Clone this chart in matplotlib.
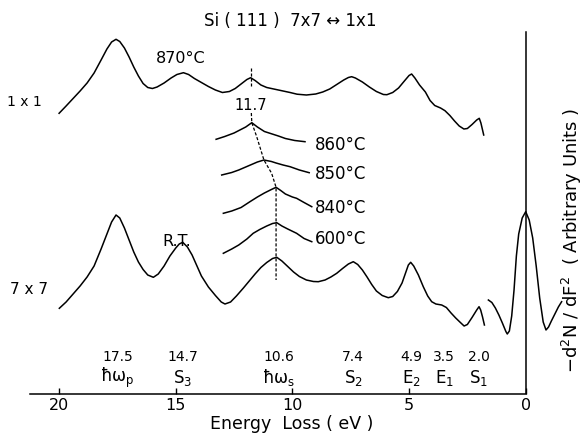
import matplotlib
matplotlib.use("Agg")
import matplotlib.pyplot as plt

plt.rcParams['font.family'] = ['DejaVu Sans']
plt.rcParams['mathtext.fontset'] = 'dejavusans'

# ---- data (energy loss in eV, intensity in arbitrary units) ----
e_1x1 = [20.0, 19.7, 19.4, 19.1, 18.8, 18.5, 18.2, 17.95, 17.75, 17.56, 17.4, 17.2, 17.0,
         16.8, 16.6, 16.4, 16.2, 16.0, 15.8, 15.5, 15.2, 14.95, 14.67, 14.45, 14.2, 13.9,
         13.6, 13.3, 13.0, 12.7, 12.45, 12.2, 11.95, 11.79, 11.6, 11.35, 11.1, 10.8, 10.5,
         10.1, 9.8, 9.4, 9.0, 8.7, 8.4, 8.1, 7.8, 7.6, 7.46, 7.3, 7.0, 6.7, 6.4, 6.1,
         5.95, 5.7, 5.45, 5.2, 5.0, 4.89, 4.75, 4.55, 4.3, 4.1, 3.9, 3.65, 3.46, 3.25,
         3.05, 2.85, 2.65, 2.5, 2.3, 2.1, 1.99, 1.92, 1.85, 1.80]
i_1x1 = [280.7, 288, 295.5, 303, 311, 321, 334, 345, 352, 354.7, 352.5, 346, 337,
         327, 318, 310.5, 306.5, 305.5, 307, 311, 316, 319.5, 321.3, 319.5, 315.5, 311.5,
         307.5, 304, 301.5, 302.5, 305.5, 310, 314.5, 316.3, 313.5, 309, 306.5, 305, 303.5,
         301.5, 299.8, 299, 300, 302, 305, 309.5, 314, 316.5, 317.3, 316, 312, 307, 302.5, 299.5,
         299.3, 301.5, 306, 313, 318.5, 320, 316, 309, 302, 293.5, 288.5, 286, 283.3, 278.5,
         273, 268, 265, 265.5, 269.5, 274, 275.7, 271, 264, 259]

e_7x7 = [19.99, 19.7, 19.4, 19.1, 18.8, 18.5, 18.2, 17.95, 17.75, 17.56, 17.4, 17.2, 17.0,
         16.8, 16.6, 16.4, 16.2, 15.96, 15.75, 15.5, 15.25, 15.0, 14.85, 14.70, 14.5, 14.3,
         14.1, 13.9, 13.6, 13.3, 13.05, 12.89, 12.65, 12.4, 12.1, 11.85, 11.6, 11.35, 11.1,
         10.85, 10.67, 10.45, 10.2, 9.95, 9.7, 9.4, 9.1, 8.89, 8.6, 8.35, 8.1, 7.85, 7.6,
         7.39, 7.2, 7.0, 6.8, 6.6, 6.4, 6.15, 5.89, 5.7, 5.5, 5.3, 5.15, 5.03, 4.93, 4.8,
         4.6, 4.39, 4.2, 4.03, 3.85, 3.60, 3.4, 3.2, 3.0, 2.8, 2.64, 2.5, 2.3, 2.1, 2.00,
         1.93, 1.85, 1.77]
i_7x7 = [85.7, 92, 100, 108, 117, 128, 145, 160, 172, 179, 176, 166, 154,
         142, 132, 124.5, 119, 116.7, 120, 128, 138, 146, 150, 151.7, 147, 139,
         128.5, 118, 107, 98.5, 92, 90, 92, 98, 106, 113, 120, 126.5, 131.5,
         135.5, 136.7, 133, 127.5, 122, 117.5, 114, 112.5, 112.3, 114, 117, 120.7, 125.5, 130,
         132.3, 129.5, 124, 117, 109.5, 103, 98.5, 96.3, 97.5, 102.5, 111, 121, 129, 131.7, 128,
         119, 107.3, 98, 92.3, 90, 89, 86.5, 81, 76, 71.5, 68, 69.5, 76.5, 84, 87.3,
         84, 77, 69]

e_zero = [1.60, 1.45, 1.3, 1.15, 1.0, 0.85, 0.79, 0.7, 0.6, 0.5, 0.4, 0.3, 0.15, 0.0,
          -0.15, -0.3, -0.45, -0.6, -0.75, -0.87, -0.98, -1.1, -1.25, -1.4, -1.54]
i_zero = [94, 91.5, 86, 79, 71, 62.5, 60, 63, 78, 104, 138, 160, 176, 182.3,
          174, 156, 128, 96, 72, 64, 67, 73, 80, 87, 92.3]

temps = ["860°C", "850°C", "840°C", "600°C"]
e_t = [[13.27, 12.9, 12.5, 12.0, 11.74, 11.5, 11.2, 10.96, 10.6, 10.3, 9.9, 9.46],
       [13.03, 12.6, 12.3, 11.9, 11.5, 11.22, 10.9, 10.7, 10.4, 10.10, 9.7, 9.28],
       [12.96, 12.6, 12.2, 11.82, 11.5, 11.2, 10.9, 10.70, 10.5, 10.3, 10.0, 9.82, 9.5, 9.17],
       [12.96, 12.6, 12.3, 11.95, 11.68, 11.4, 11.1, 10.85, 10.67, 10.45, 10.2, 9.82, 9.5, 9.17]]
i_t = [[254.7, 257.5, 261, 267, 271.3, 267, 262.5, 260.7, 258, 255.5, 253.5, 252.3],
       [219, 221.5, 224, 228, 232, 234, 232.5, 231, 229, 227.3, 224, 221.3],
       [180.7, 183, 186.5, 192.3, 197, 201, 204.5, 206.7, 203.5, 200, 197, 195.7, 191.5, 187.3],
       [140.7, 145, 149, 155, 160.7, 164.5, 168, 170.5, 171.3, 168, 165, 160.7, 155.5, 152.3]]

# peak shift guide (dashed)
e_guide1 = [11.79, 11.79]
i_guide1 = [326, 308]
e_guide2 = [11.76, 11.74, 11.53, 11.22, 10.89, 10.70, 10.70]
i_guide2 = [281, 271.3, 257.3, 234, 220.7, 206.7, 114]

peak_vals = ["17.5", "14.7", "10.6", "7.4", "4.9", "3.5", "2.0"]
peak_pos = [17.5, 14.7, 10.6, 7.4, 4.9, 3.5, 2.0]
peak_names = [r"ħω$_{\rm p}$", r"S$_{\rm 3}$", r"ħω$_{\rm s}$", r"S$_{\rm 2}$",
              r"E$_{\rm 2}$", r"E$_{\rm 1}$", r"S$_{\rm 1}$"]
xticks = [20, 15, 10, 5, 0]

# ---- figure ----
fig = plt.figure(figsize=(5.83, 4.38), dpi=100)
ax = fig.add_axes([0, 44 / 438, 1, 394 / 438])
ax.set_xlim(22.533, -2.456)
ax.set_ylim(0, 394)

lw = 1.1
ax.plot(e_1x1, i_1x1, color='black', lw=lw)
ax.plot(e_7x7, i_7x7, color='black', lw=lw)
ax.plot(e_zero, i_zero, color='black', lw=lw)
for ex, iy in zip(e_t, i_t):
    ax.plot(ex, iy, color='black', lw=lw)
ax.plot(e_guide1, i_guide1, color='black', lw=0.9, ls=(0, (2.5, 1.5)))
ax.plot(e_guide2, i_guide2, color='black', lw=0.9, ls=(0, (2.5, 1.5)))
ax.plot([0, 0], [0, 362.3], color='black', lw=lw)

# axes styling
for s in ['top', 'right', 'left']:
    ax.spines[s].set_visible(False)
ax.spines['bottom'].set_bounds(0, 21.25)
ax.spines['bottom'].set_linewidth(1.1)
ax.set_yticks([])
ax.set_xticks(xticks)
ax.set_xticklabels([str(t) for t in xticks])
ax.tick_params(axis='x', direction='in', length=4, width=1.0, pad=3, labelsize=11.5)
ax.set_xlabel("Energy  Loss ( eV )", fontsize=12.5, labelpad=1)

# texts
fig.text(0.497, 1 - 21 / 438, "Si ( 111 )  7x7 ↔ 1x1", ha='center', va='center', fontsize=12)
ax.text(14.8, 335.7, "870°C", ha='center', va='center', fontsize=11.5)
ax.text(11.79, 289, "11.7", ha='center', va='center', fontsize=10.5)
ax.text(14.95, 152.3, "R.T.", ha='center', va='center', fontsize=11.5)
ax.text(21.5, 292, "1 x 1", ha='center', va='center', fontsize=10)
ax.text(21.3, 104, "7 x 7", ha='center', va='center', fontsize=11)
temp_y = [249, 220, 185.7, 154.7]
for t, ty in zip(temps, temp_y):
    ax.text(9.03, ty, t, ha='left', va='center', fontsize=12)
for pv, pp, pn in zip(peak_vals, peak_pos, peak_names):
    ax.text(pp, 37, pv, ha='center', va='center', fontsize=10)
    ax.text(pp, 16, pn, ha='center', va='center', fontsize=12)

fig.text(572 / 583, 1 - 240 / 438, "−d$^{\\rm 2}$N / dF$^{\\rm 2}$  ( Arbitrary Units )",
         rotation=90, ha='center', va='center', fontsize=13)

fig.savefig("out.png", dpi=100, facecolor='white')
